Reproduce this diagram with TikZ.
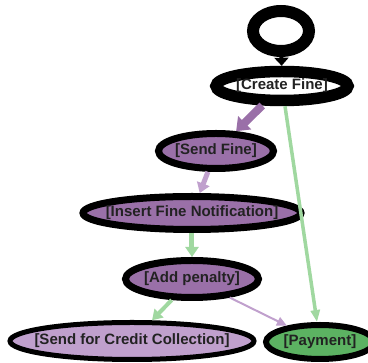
\documentclass[tikz,border=0pt]{standalone}
\usepackage{fontspec}
\setmainfont{Liberation Sans}
\usetikzlibrary{shapes.geometric,arrows.meta}
\definecolor{midpurple}{HTML}{9A70A8}
\definecolor{lightpurple}{HTML}{C0A0CD}
\definecolor{stategreen}{HTML}{5CB262}
\definecolor{edgegreen}{HTML}{A0D8A0}
\definecolor{txt}{HTML}{222222}
\newcommand{\lbl}[1]{\makebox[0pt]{#1}}
\begin{document}
\begin{tikzpicture}[x=1pt,y=-1pt,
  state/.style={ellipse, draw=black, inner sep=0pt, text=txt,
    font=\fontsize{15}{18}\selectfont\bfseries},
]
\useasboundingbox (0,0) rectangle (368,363);
\node[state, line width=12, minimum width=56, minimum height=40, fill=white] (start) at (281,31) {};
\node[state, line width=11.5, minimum width=132, minimum height=29, fill=white] (cf) at (282,86) {\lbl{[Create Fine]}};
\node[state, line width=7, minimum width=115, minimum height=35, fill=midpurple] (sf) at (216,151) {\lbl{[Send Fine]}};
\node[state, line width=7, minimum width=218, minimum height=33, fill=midpurple] (ifn) at (192,213) {\lbl{[Insert Fine Notification]}};
\node[state, line width=7, minimum width=133, minimum height=37, fill=midpurple] (ap) at (192,279) {\lbl{[Add penalty]}};
\node[state, line width=5, minimum width=244, minimum height=37, fill=lightpurple] (sfc) at (132,341) {\lbl{[Send for Credit Collection]}};
\node[state, line width=6, minimum width=108, minimum height=34, fill=stategreen] (pay) at (320,342) {\lbl{[Payment]}};

\draw[black, line width=4, -{Triangle[length=8pt,width=14pt]}] (start) -- (cf);
\draw[midpurple, line width=8, -{Triangle[length=12pt,width=18pt]}] (cf) -- (sf);
\draw[edgegreen, line width=3.5, -{Triangle[length=12pt,width=9pt]}] (cf) -- (pay);
\draw[lightpurple, line width=5, -{Triangle[length=10pt,width=13pt]}] (sf) -- (ifn);
\draw[edgegreen, line width=5, -{Triangle[length=10pt,width=13pt]}] (ifn) -- (ap);
\draw[edgegreen, line width=4, -{Triangle[length=10pt,width=12pt]}] (ap) -- (sfc);
\draw[lightpurple, line width=2, -{Triangle[length=10pt,width=9pt]}] (ap) -- (pay);
\end{tikzpicture}
\end{document}
